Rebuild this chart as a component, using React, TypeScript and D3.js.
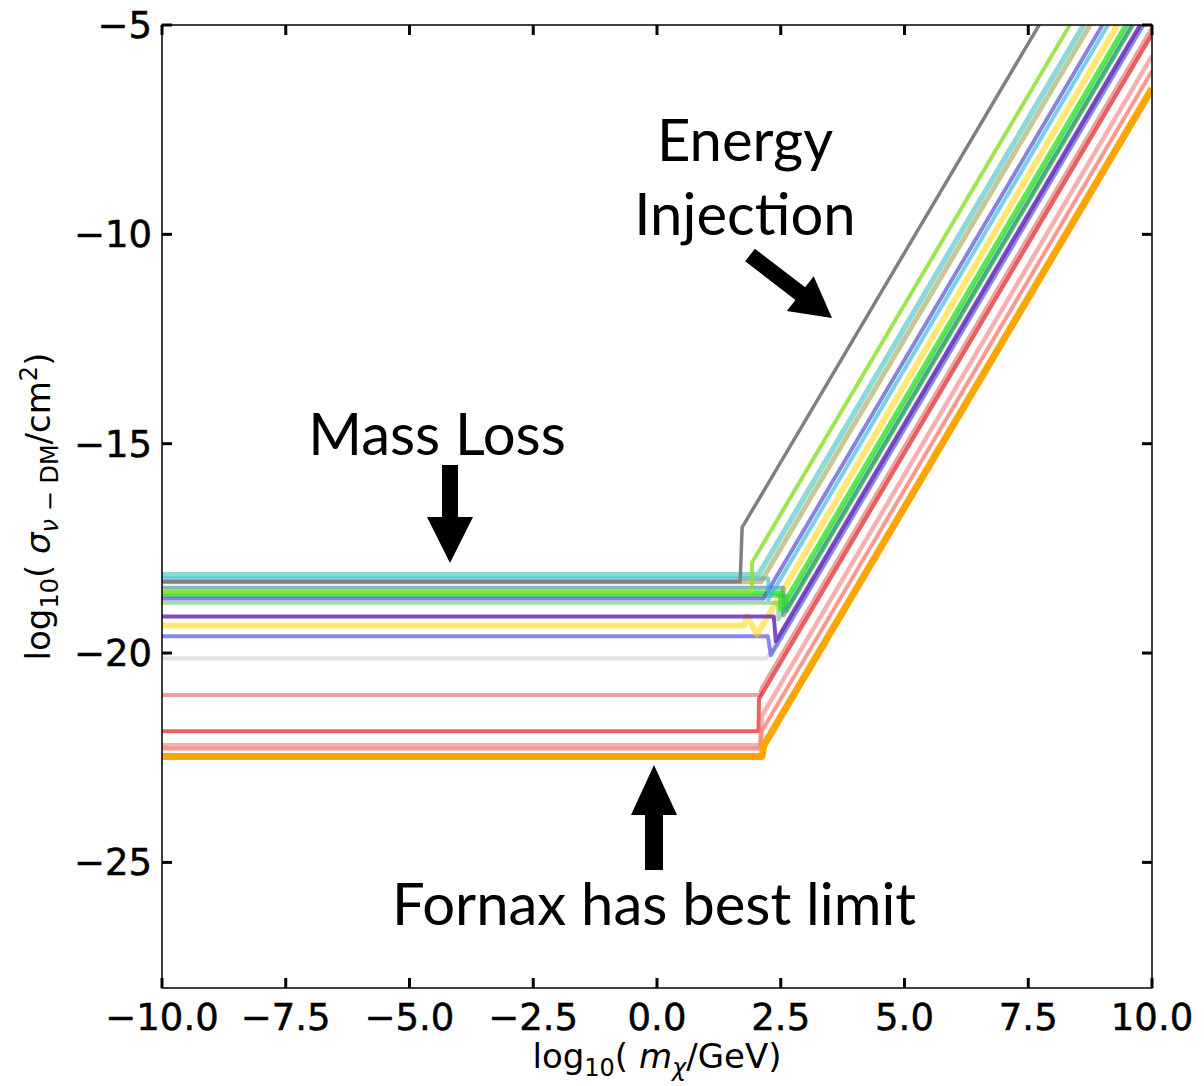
import React from "react";
import * as d3 from "d3";

const W = 1204;
const H = 1086;
const margin = { left: 162, right: 52, top: 25, bottom: 98 };

const xTicks = [-10, -7.5, -5, -2.5, 0, 2.5, 5, 7.5, 10];
const yTicks = [-25, -20, -15, -10, -5];

// [log10 m, log10 sigma] : flat mass-loss plateau, kink, slope-2 energy injection rise
const lightGrayCurve = [[-10, -20.13], [2.2, -20.13], [2.26, -20.05], [9.78, -5]];
const turquoiseCurve = [[-10, -18.13], [2.05, -18.13], [8.62, -5]];
const khakiCurve = [[-10, -18.3], [2.1, -18.3], [8.75, -5]];
const cyanCurve = [[-10, -18.22], [2.25, -18.22], [2.25, -18.72], [9.11, -5]];
const lightGreenCurve = [[-10, -18.8], [2.45, -18.8], [2.45, -19.2], [9.55, -5]];
const darkCyanCurve = [[-10, -18.44], [2.55, -18.44], [2.55, -19.1], [9.6, -5]];
const greenCurve = [[-10, -18.63], [2.62, -18.63], [2.62, -19.0], [9.62, -5]];
const limeCurve = [[-10, -18.56], [2.5, -18.56], [2.5, -18.95], [9.475, -5]];
const slateBlueCurve = [[-10, -18.7], [2.15, -18.7], [9.0, -5]];
const yellowGreenCurve = [[-10, -18.55], [1.92, -18.55], [1.92, -17.84], [8.34, -5]];
const goldCurve = [[-10, -19.34], [1.76, -19.34], [1.82, -19.12], [2.02, -19.56], [9.3, -5]];
const purpleCurve = [[-10, -19.13], [2.36, -19.13], [2.4, -19.72], [9.76, -5]];
const royalBlueCurve = [[-10, -19.6], [2.24, -19.6], [2.3, -20.05], [9.825, -5]];
const lightCoralCurve = [[-10, -21.0], [2.08, -21.0], [2.12, -20.83], [10, -5.07]];
const redCurve = [[-10, -21.87], [2.05, -21.87], [2.06, -21.1], [10, -5.22]];
const pinkCurve = [[-10, -22.2], [2.1, -22.2], [2.12, -21.5], [10, -5.74]];
const salmonCurve = [[-10, -22.28], [2.08, -22.28], [2.1, -21.9], [10, -6.1]];
const grayCurve = [[-10, -18.3], [1.68, -18.3], [1.72, -17.0], [7.72, -5]];
const fornaxCurve = [[-10, -22.47], [2.12, -22.47], [2.16, -22.2], [10, -6.52]];

const curves = [
  { pts: lightGrayCurve, color: "#cfcfcf", op: 0.6, w: 4 },
  { pts: lightCoralCurve, color: "#e06060", op: 0.6, w: 4 },
  { pts: redCurve, color: "#e02020", op: 0.7, w: 4 },
  { pts: pinkCurve, color: "#f07070", op: 0.55, w: 4.5 },
  { pts: salmonCurve, color: "#fa8072", op: 0.8, w: 4 },
  { pts: royalBlueCurve, color: "#4a4ae0", op: 0.65, w: 4 },
  { pts: goldCurve, color: "#ffd700", op: 0.55, w: 6 },
  { pts: purpleCurve, color: "#6a2bb8", op: 0.85, w: 4 },
  { pts: lightGreenCurve, color: "#5cc05c", op: 0.55, w: 4 },
  { pts: greenCurve, color: "#40d040", op: 0.7, w: 4 },
  { pts: darkCyanCurve, color: "#2e8b8b", op: 0.6, w: 4 },
  { pts: limeCurve, color: "#20e020", op: 0.75, w: 5 },
  { pts: slateBlueCurve, color: "#5050d8", op: 0.7, w: 4 },
  { pts: cyanCurve, color: "#40bcd8", op: 0.7, w: 4 },
  { pts: khakiCurve, color: "#a0a050", op: 0.6, w: 5 },
  { pts: turquoiseCurve, color: "#40bfbf", op: 0.6, w: 5.5 },
  { pts: yellowGreenCurve, color: "#8ee030", op: 0.85, w: 4 },
  { pts: grayCurve, color: "#808080", op: 1, w: 3.5 },
  { pts: fornaxCurve, color: "#ffa500", op: 1, w: 7 },
];

function arrow(x1: number, y1: number, x2: number, y2: number, sw: number, hw: number, hl: number) {
  const dx = x2 - x1, dy = y2 - y1;
  const len = Math.hypot(dx, dy);
  const ux = dx / len, uy = dy / len;
  const px = -uy, py = ux;
  const bx = x2 - ux * hl, by = y2 - uy * hl;
  const p = [
    [x1 + px * sw / 2, y1 + py * sw / 2],
    [bx + px * sw / 2, by + py * sw / 2],
    [bx + px * hw / 2, by + py * hw / 2],
    [x2, y2],
    [bx - px * hw / 2, by - py * hw / 2],
    [bx - px * sw / 2, by - py * sw / 2],
    [x1 - px * sw / 2, y1 - py * sw / 2],
  ];
  return p.map((d) => d.join(",")).join(" ");
}

export default function App() {
  const x = d3.scaleLinear().domain([-10, 10]).range([margin.left, W - margin.right]);
  const y = d3.scaleLinear().domain([-28, -5]).range([H - margin.bottom, margin.top]);
  const line = d3
    .line<number[]>()
    .x((d) => x(d[0]))
    .y((d) => y(d[1]));

  const x0 = x(-10), x1 = x(10), y0 = y(-28), y1 = y(-5);
  const tickFont = "DejaVu Sans, sans-serif";
  const annFont = "Lato, sans-serif";

  return (
    <svg width={W} height={H} style={{ position: "absolute", left: 0, top: 0, background: "#fff" }}>
      <defs>
        <clipPath id="plot">
          <rect x={x0} y={y1} width={x1 - x0} height={y0 - y1} />
        </clipPath>
      </defs>
      <g clipPath="url(#plot)" fill="none" strokeLinejoin="round">
        {curves.map((c, i) => (
          <path key={i} d={line(c.pts) || ""} stroke={c.color} strokeOpacity={c.op} strokeWidth={c.w} />
        ))}
      </g>

      <rect x={x0} y={y1} width={x1 - x0} height={y0 - y1} fill="none" stroke="#000" strokeWidth={1.5} />

      {xTicks.map((t) => (
        <g key={"x" + t}>
          <line x1={x(t)} x2={x(t)} y1={y0} y2={y0 - 10} stroke="#000" strokeWidth={3} />
          <line x1={x(t)} x2={x(t)} y1={y1} y2={y1 + 10} stroke="#000" strokeWidth={3} />
          <text x={x(t)} y={y0 + 42} textAnchor="middle" fontFamily={tickFont} fontSize={37} stroke="#000" strokeWidth={0.5}>
            {d3.format(".1f")(t).replace("-", "\u2212")}
          </text>
        </g>
      ))}
      {yTicks.map((t) => (
        <g key={"y" + t}>
          <line x1={x0} x2={x0 + 10} y1={y(t)} y2={y(t)} stroke="#000" strokeWidth={3} />
          <line x1={x1} x2={x1 - 10} y1={y(t)} y2={y(t)} stroke="#000" strokeWidth={3} />
          <text x={x0 - 10} y={y(t) + 13} textAnchor="end" fontFamily={tickFont} fontSize={37} stroke="#000" strokeWidth={0.5}>
            {String(t).replace("-", "\u2212")}
          </text>
        </g>
      ))}

      <text x={(x0 + x1) / 2} y={1068} textAnchor="middle" fontFamily={tickFont} fontSize={34}>
        log<tspan dy={8} fontSize={24}>10</tspan>
        <tspan dy={-8}>( </tspan>
        <tspan fontStyle="italic">m</tspan>
        <tspan dy={8} fontSize={24} fontStyle="italic">χ</tspan>
        <tspan dy={-8}>/GeV)</tspan>
      </text>
      <text
        transform={`translate(50,${(y0 + y1) / 2}) rotate(-90)`}
        textAnchor="middle"
        fontFamily={tickFont}
        fontSize={34}
      >
        log<tspan dy={8} fontSize={24}>10</tspan>
        <tspan dy={-8}>( </tspan>
        <tspan fontStyle="italic">σ</tspan>
        <tspan dy={8} fontSize={24} fontStyle="italic">ν</tspan>
        <tspan fontSize={24}>{" \u2212 DM"}</tspan>
        <tspan dy={-8}>/cm</tspan>
        <tspan dy={-13} fontSize={24}>2</tspan>
        <tspan dy={13}>)</tspan>
      </text>

      <g fontFamily={annFont} fontSize={58} textAnchor="middle" fill="#000">
        <text x={745} y={161}>Energy</text>
        <text x={745} y={235}>Injection</text>
        <text x={437} y={455}>Mass Loss</text>
        <text x={654} y={925}>Fornax has best limit</text>
      </g>
      <polygon points={arrow(750, 255, 832, 318, 16, 44, 40)} fill="#000" />
      <polygon points={arrow(450, 465, 450, 563, 16, 46, 46)} fill="#000" />
      <polygon points={arrow(654, 870, 654, 765, 18, 46, 50)} fill="#000" />
    </svg>
  );
}
